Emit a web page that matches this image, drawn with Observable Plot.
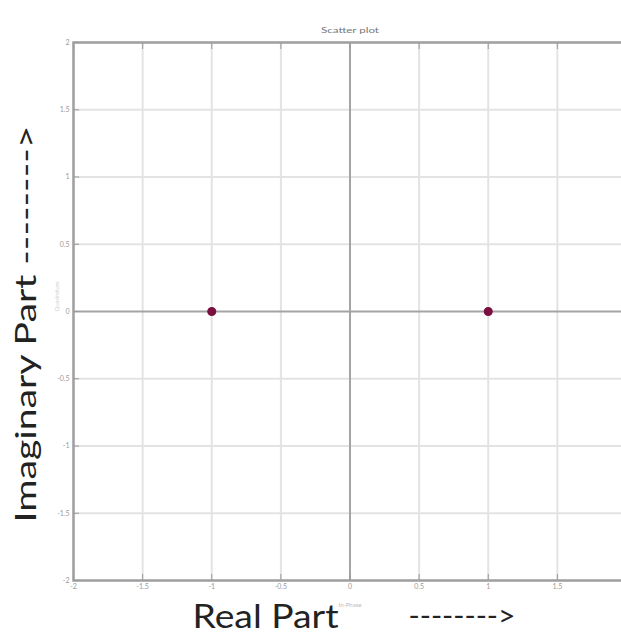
<!DOCTYPE html>
<html>
<head>
<meta charset="utf-8">
<script src="https://cdn.jsdelivr.net/npm/d3@7"></script>
<script src="https://cdn.jsdelivr.net/npm/@observablehq/plot@0.6"></script>
<style>
  html, body { margin: 0; padding: 0; background: #fff; overflow: hidden; }
  #chart svg { overflow: hidden; display: block; }
</style>
</head>
<body>
<div id="chart"></div>
<script>
// ---- data ----
const xTicks = [-2, -1.5, -1, -0.5, 0, 0.5, 1, 1.5, 2];
const yTicks = [-2, -1.5, -1, -0.5, 0, 0.5, 1, 1.5, 2];
const symbolRe = [-1, 1];
const symbolIm = [0, 0];
const titleText = "Scatter plot";
const xSmallLabel = "In-Phase";
const ySmallLabel = "Quadrature";
const xBigLabel = "Real Part";
const xArrow = "-------->";
const yBigLabel = "Imaginary Part -------->";

const points = symbolRe.map((re, i) => ({re, im: symbolIm[i]}));
const nonZeroX = xTicks.filter(d => d !== 0);
const nonZeroY = yTicks.filter(d => d !== 0);
const visibleXTicks = xTicks.filter(d => d < 2); // the x = 2 edge lies past the window
const fmt = d => String(d);

const plot = Plot.plot({
  width: 621,
  height: 635,
  marginLeft: 73,
  marginRight: -5,
  marginTop: 42,
  marginBottom: 55,
  style: {fontFamily: "Lato, 'Open Sans', sans-serif", background: "#fff"},
  x: {domain: [-2, 2], ticks: xTicks},
  y: {domain: [-2, 2], ticks: yTicks},
  marks: [
    Plot.ruleX(nonZeroX, {stroke: "#e3e3e3", strokeWidth: 2}),
    Plot.ruleY(nonZeroY, {stroke: "#e3e3e3", strokeWidth: 2}),
    Plot.ruleX([0], {stroke: "#a4a4a4", strokeWidth: 2}),
    Plot.ruleY([0], {stroke: "#a4a4a4", strokeWidth: 2}),
    Plot.frame({stroke: "#a0a0a0", strokeWidth: 2.5}),
    Plot.axisX({anchor: "bottom", ticks: visibleXTicks, tickSize: -6, tickPadding: 10, tickFormat: fmt, fontSize: 7, color: "#9a9a9a", label: null}),
    Plot.axisX({anchor: "top", ticks: visibleXTicks, tickSize: -6, tickFormat: () => "", color: "#9a9a9a", label: null}),
    Plot.axisY({anchor: "left", ticks: yTicks, tickSize: -6, tickPadding: 10, tickFormat: fmt, fontSize: 7, color: "#9a9a9a", label: null}),
    Plot.dot(points, {x: "re", y: "im", r: 3.8, fill: "#7a1040", stroke: "#7a1040"}),
    Plot.text([titleText], {frameAnchor: "top", dy: -14, fontSize: 7, fill: "#777", className: "ttl"}),
    Plot.text([xSmallLabel], {frameAnchor: "bottom", dy: 26, fontSize: 6, fill: "#bbb"}),
    Plot.text([ySmallLabel], {frameAnchor: "left", dx: -16, rotate: -90, fontSize: 6, fill: "#d0d0d0"}),
    Plot.text([xBigLabel], {frameAnchor: "bottom-left", textAnchor: "start", dx: 119, dy: 47, fontSize: 32, fill: "#222", lineAnchor: "bottom", className: "xlab"}),
    Plot.text([xArrow], {frameAnchor: "bottom-left", textAnchor: "start", dx: 335, dy: 45, fontSize: 28, fill: "#222", lineAnchor: "bottom", className: "xarr"}),
    Plot.text([yBigLabel], {frameAnchor: "left", textAnchor: "start", rotate: -90, dx: -38, dy: 211, fontSize: 28, fill: "#222", lineAnchor: "bottom", className: "ylab"})
  ]
});

const svg = d3.select(plot);
svg.selectAll(".xlab text").attr("textLength", 146).attr("lengthAdjust", "spacingAndGlyphs");
svg.selectAll(".xarr text").attr("textLength", 107).attr("lengthAdjust", "spacingAndGlyphs");
svg.selectAll(".ylab text").attr("textLength", 397).attr("lengthAdjust", "spacingAndGlyphs");
svg.selectAll(".ttl text").attr("textLength", 58).attr("lengthAdjust", "spacingAndGlyphs");
document.getElementById("chart").appendChild(plot);
</script>
</body>
</html>
